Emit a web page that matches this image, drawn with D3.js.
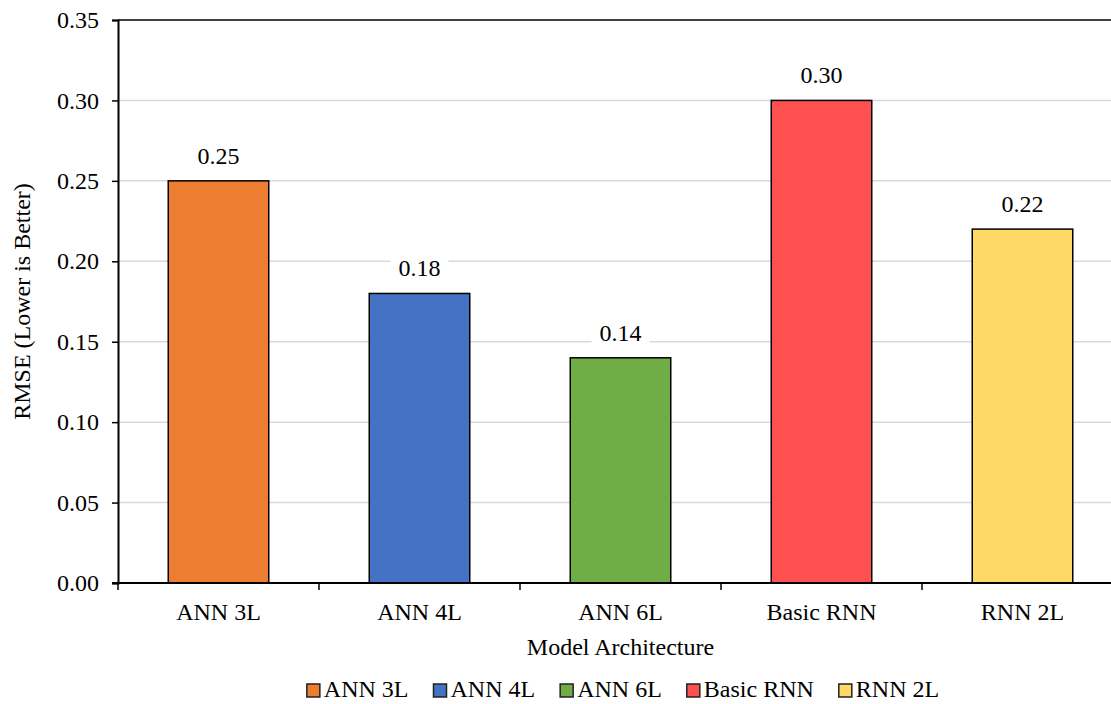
<!DOCTYPE html>
<html>
<head>
<meta charset="utf-8">
<script src="https://cdn.jsdelivr.net/npm/d3@7"></script>
<style>
  html, body { margin: 0; padding: 0; background: #fff; }
</style>
</head>
<body>
<svg id="chart" width="1111" height="704"></svg>
<script>
// Model RMSE comparison
const categories = ["ANN 3L", "ANN 4L", "ANN 6L", "Basic RNN", "RNN 2L"];
const rmseValues = [0.25, 0.18, 0.14, 0.30, 0.22];
const barColors = ["#ED7D31", "#4472C4", "#70AD47", "#FF5050", "#FFD966"];
const yTicks = [0, 0.05, 0.10, 0.15, 0.20, 0.25, 0.30, 0.35];

const FONT = '"Liberation Serif", "Times New Roman", serif';
const FS = 24;
const svg = d3.select("#chart");
const margin = { left: 118, top: 20, right: -12, bottom: 121 };
const W = 1111, H = 704;
const plotRight = W - margin.right;
const plotBottom = H - margin.bottom;

const x = d3.scaleBand().domain(categories).range([margin.left, plotRight]).paddingInner(0.5).paddingOuter(0.25);
const y = d3.scaleLinear().domain([0, 0.35]).range([plotBottom, margin.top]);

function styleText(sel) {
  return sel.style("font-family", FONT).style("font-size", FS + "px").attr("fill", "#000");
}

// Gridlines
svg.append("g").selectAll("line").data(yTicks.slice(1, -1)).join("line")
  .attr("x1", margin.left).attr("x2", plotRight)
  .attr("y1", d => y(d)).attr("y2", d => y(d))
  .attr("stroke", "#d9d9d9").attr("stroke-width", 1.5);

// Top border of plot area
svg.append("line")
  .attr("x1", margin.left).attr("x2", plotRight)
  .attr("y1", y(0.35)).attr("y2", y(0.35))
  .attr("stroke", "#000").attr("stroke-width", 1.5);

// Bars
svg.append("g").selectAll("rect").data(categories).join("rect")
  .attr("x", d => x(d)).attr("width", x.bandwidth())
  .attr("y", (d, i) => y(rmseValues[i]))
  .attr("height", (d, i) => y(0) - y(rmseValues[i]))
  .attr("fill", (d, i) => barColors[i])
  .attr("stroke", "#000").attr("stroke-width", 1.5);

// Value labels with white backgrounds
const labels = svg.append("g").selectAll("g").data(categories).join("g")
  .attr("transform", (d, i) => `translate(${x(d) + x.bandwidth() / 2},${y(rmseValues[i]) - 17})`);
labels.append("rect")
  .attr("x", -29).attr("y", -22).attr("width", 58).attr("height", 29)
  .attr("fill", "#fff");
styleText(labels.append("text").attr("text-anchor", "middle"))
  .text((d, i) => rmseValues[i].toFixed(2));

// Y axis
const yAxis = d3.axisLeft(y).tickValues(yTicks).tickFormat(d3.format(".2f")).tickSize(6).tickPadding(13);
const gy = svg.append("g").attr("transform", `translate(${margin.left},0)`).call(yAxis);
gy.select(".domain").attr("stroke", "#000").attr("stroke-width", 2);
gy.selectAll(".tick line").attr("stroke", "#000").attr("stroke-width", 1.5);
styleText(gy.selectAll(".tick text"));

// X axis with ticks at category boundaries
const gx = svg.append("g").attr("transform", `translate(0,${plotBottom})`);
gx.append("line").attr("x1", margin.left - 6).attr("x2", plotRight)
  .attr("stroke", "#000").attr("stroke-width", 2);
const step = x.step();
const boundaries = d3.range(categories.length + 1).map(i => margin.left + i * step);
gx.selectAll("line.tick").data(boundaries).join("line").attr("class", "tick")
  .attr("x1", d => d).attr("x2", d => d).attr("y1", 0).attr("y2", 7)
  .attr("stroke", "#000").attr("stroke-width", 1.5);
styleText(gx.selectAll("text").data(categories).join("text")
  .attr("x", d => x(d) + x.bandwidth() / 2).attr("y", 37)
  .attr("text-anchor", "middle"))
  .text(d => d);

// Axis titles
styleText(svg.append("text")
  .attr("x", (margin.left + plotRight) / 2).attr("y", 655)
  .attr("text-anchor", "middle"))
  .text("Model Architecture");
styleText(svg.append("text")
  .attr("transform", `translate(30,${(margin.top + plotBottom) / 2}) rotate(-90)`)
  .attr("text-anchor", "middle"))
  .text("RMSE (Lower is Better)");

// Legend
const legend = svg.append("g");
const items = legend.selectAll("g").data(categories).join("g");
items.append("rect").attr("width", 13).attr("height", 13).attr("y", -13)
  .attr("fill", (d, i) => barColors[i]).attr("stroke", "#222").attr("stroke-width", 1.5);
styleText(items.append("text").attr("x", 17)).text(d => d);
const gap = 25;
const widths = items.nodes().map(n => n.getBBox().width);
const total = d3.sum(widths) + gap * (widths.length - 1);
let start = 623 - total / 2;
items.attr("transform", (d, i) => {
  const tx = start;
  start += widths[i] + gap;
  return `translate(${tx},697)`;
});
</script>
</body>
</html>
